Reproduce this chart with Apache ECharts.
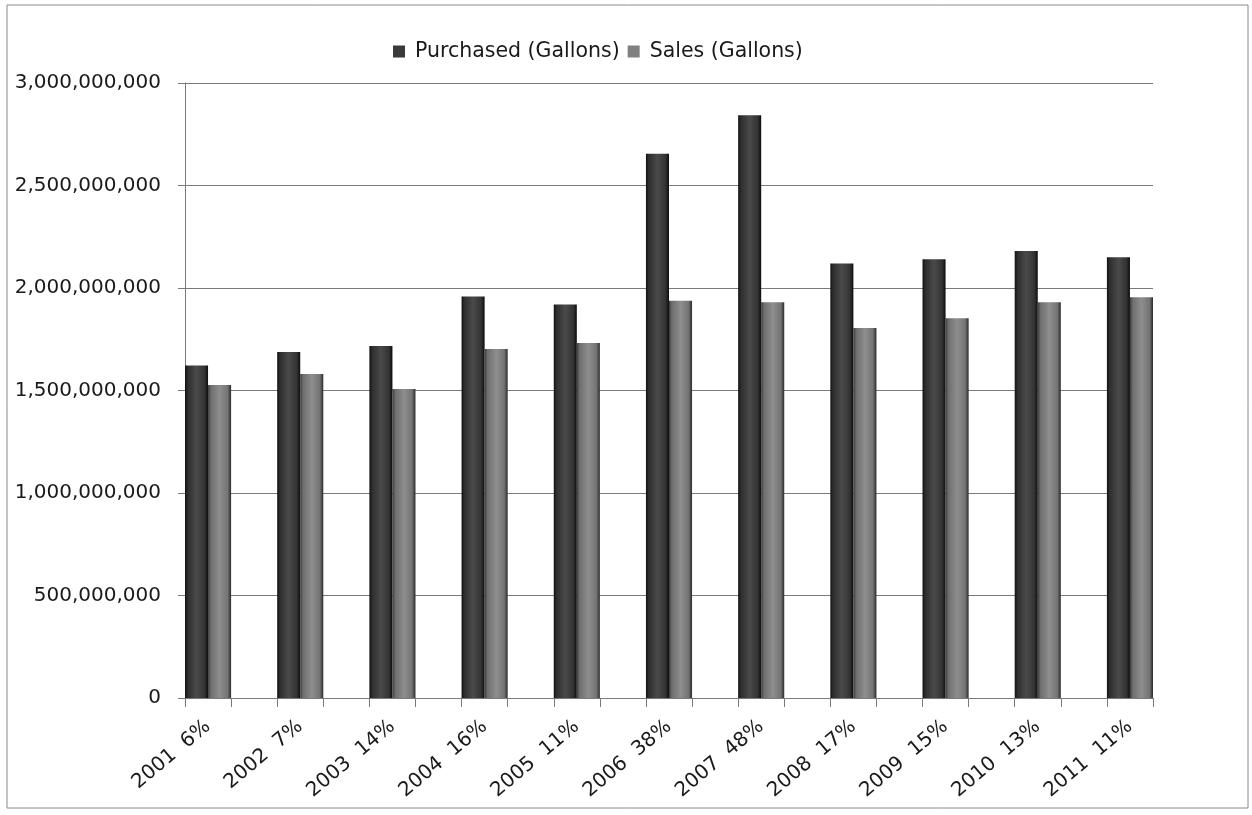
<!DOCTYPE html>
<html>
<head>
<meta charset="utf-8">
<script src="https://cdn.jsdelivr.net/npm/echarts@6/dist/echarts.min.js"></script>
<style>
html,body{margin:0;padding:0;background:#fff;}
#chart{width:1252px;height:815px;}
</style>
</head>
<body>
<div id="chart"></div>
<script>
var years = ['2001','2002','2003','2004','2005','2006','2007','2008','2009','2010','2011'];
var pctLabels = ['6%','7%','14%','16%','11%','38%','48%','17%','15%','13%','11%'];
var purchased = [1622000000,1688000000,1717000000,1958000000,1920000000,2655000000,2843000000,2120000000,2140000000,2180000000,2150000000];
var sales = [1527000000,1580000000,1507000000,1702000000,1732000000,1938000000,1930000000,1805000000,1852000000,1930000000,1955000000];
var yTicks = [0,500000000,1000000000,1500000000,2000000000,2500000000,3000000000];

// Interleave blank categories between the years (as in the original chart)
var cats = [], pData = [], sData = [];
for (var i = 0; i < years.length; i++) {
  cats.push(years[i] + '  ' + pctLabels[i]);
  pData.push(purchased[i]);
  sData.push(sales[i]);
  if (i < years.length - 1) { cats.push(' '); pData.push(null); sData.push(null); }
}

var FONT = 'DejaVu Sans';
function grad(stops){
  return new echarts.graphic.LinearGradient(0,0,1,0, stops.map(function(s){return {offset:s[0],color:s[1]};}));
}
var chart = echarts.init(document.getElementById('chart'));
chart.setOption({
  backgroundColor:'#fff',
  animation:false,
  textStyle:{fontFamily:FONT},
  graphic:[{type:'rect',shape:{x:7,y:5,width:1241,height:803},style:{fill:'none',stroke:'#8a8a8a',lineWidth:1},silent:true}],
  legend:{
    top:36,left:388,itemWidth:12,itemHeight:12,itemGap:8,icon:'rect',
    textStyle:{fontFamily:FONT,fontSize:20.5,color:'#1a1a1a',padding:[0,0,0,5]},
    data:[{name:'Purchased (Gallons)',itemStyle:{color:'#3a3a3a'}},{name:'Sales (Gallons)',itemStyle:{color:'#808080'}}]
  },
  grid:{left:185,right:99,top:83,bottom:117,containLabel:false},
  xAxis:[{
    type:'category',data:cats,
    axisLine:{lineStyle:{color:'#7a7a7a',width:1}},
    axisTick:{show:false},
    axisLabel:{interval:0,rotate:40,fontFamily:FONT,fontSize:20,color:'#1a1a1a',margin:26},
    splitLine:{show:false}
  },{
    type:'value',position:'bottom',min:0,max:cats.length,interval:1,
    axisLine:{show:false},
    axisTick:{show:true,length:9,lineStyle:{color:'#7a7a7a'}},
    axisLabel:{show:false},
    splitLine:{show:false}
  }],
  yAxis:{
    type:'value',min:yTicks[0],max:yTicks[yTicks.length-1],interval:500000000,
    axisLine:{show:true,lineStyle:{color:'#7a7a7a'}},
    axisTick:{show:true,length:7,lineStyle:{color:'#7a7a7a'}},
    axisLabel:{fontFamily:FONT,fontSize:20,color:'#1a1a1a',margin:24,
      formatter:function(v){return v.toLocaleString('en-US');}},
    splitLine:{lineStyle:{color:'#7a7a7a',width:1}}
  },
  series:[
    {name:'Purchased (Gallons)',type:'bar',data:pData,barGap:'0%',barCategoryGap:'0%',
     itemStyle:{color:grad([[0,'#101010'],[0.12,'#2e2e2e'],[0.5,'#4a4a4a'],[0.85,'#333'],[1,'#0c0c0c']])}},
    {name:'Sales (Gallons)',type:'bar',data:sData,barGap:'0%',barCategoryGap:'0%',
     itemStyle:{color:grad([[0,'#3a3a3a'],[0.12,'#6e6e6e'],[0.5,'#8e8e8e'],[0.85,'#747474'],[1,'#2a2a2a']])}}
  ]
});
</script>
</body>
</html>
